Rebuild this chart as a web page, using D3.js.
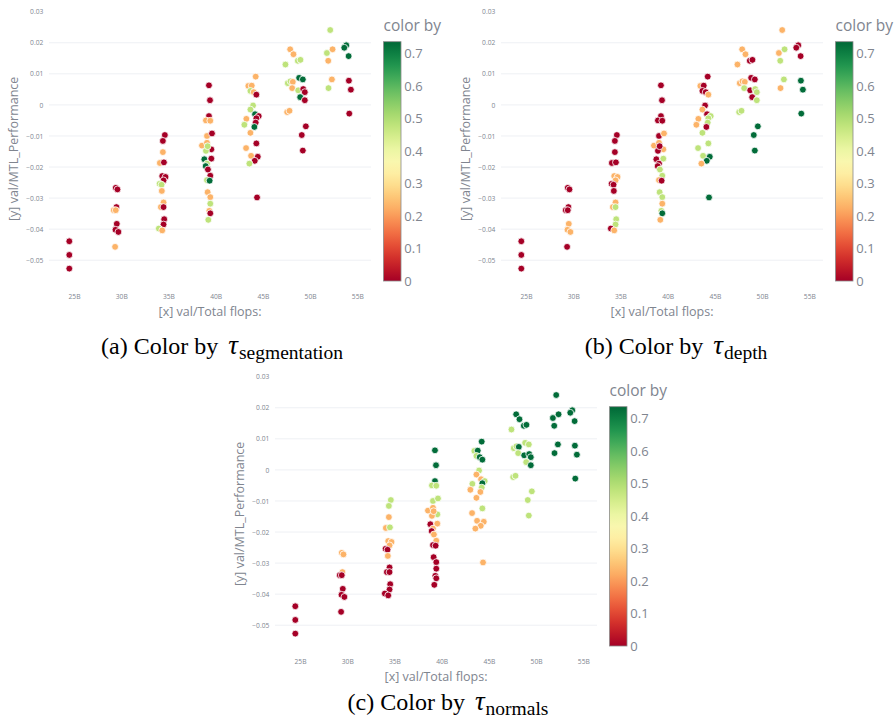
<!DOCTYPE html>
<html>
<head>
<meta charset="utf-8">
<script src="https://d3js.org/d3.v7.min.js"></script>
<style>
  body { margin: 0; background: #fff; }
  svg text { font-family: "Open Sans", sans-serif; fill: #80858f; }
  svg text.caption { font-family: "Liberation Serif", "Times New Roman", serif; fill: #000; }
  .grid line { stroke: #eef0f4; stroke-width: 1; }
</style>
</head>
<body>
<svg id="fig" width="896" height="724"></svg>
<script>
// total flops per run, in billions
var flops = [
  24.5, 24.5, 24.5,
  29.42, 29.6, 29.49, 29.21, 29.42, 29.53, 29.39, 29.7, 29.35,
  34.62, 34.41, 34.41, 34.09, 34.52, 34.34, 34.69, 34.48, 34.06, 34.27, 34.3, 34.48, 34.2, 34.48, 34.55, 34.48, 33.98, 34.34,
  39.29, 39.4, 39.29, 38.97, 39.43, 39.08, 39.61, 38.55, 39.08, 39.54, 38.97, 39.15, 38.8, 39.54, 39.08, 38.94, 39.18, 39.43, 39.08, 39.36, 39.15, 39.43, 39.43, 39.33, 39.43, 39.22,
  44.24, 43.46, 43.82, 43.68, 44.03, 44.31, 43.96, 43.68, 44.17, 44.56, 44.31, 44.24, 43.25, 43.04, 44.1, 43.68, 44.31, 43.22, 43.75, 44.46, 44.14, 43.57, 44.38,
  47.89, 48.24, 47.39, 48.7, 48.98, 47.64, 47.92, 48.17, 48.1, 48.84, 49.23, 48.74, 49.27, 49.44, 48.95, 49.44, 47.57, 47.82, 49.55, 49.12, 49.23,
  52.13, 51.78, 52.38, 51.92, 52.31, 51.95,
  53.83, 53.62, 54.08, 54.11, 54.32, 54.15
];

var perf = [
  -0.0439, -0.0483, -0.0527,
  -0.0267, -0.0272, -0.0329, -0.0339, -0.0339, -0.0383, -0.0402, -0.0409, -0.0457,
  -0.0097, -0.0116, -0.0152, -0.0187, -0.0185, -0.0229, -0.0232, -0.0243, -0.0254, -0.0257, -0.0277, -0.0314, -0.0329, -0.0329, -0.0368, -0.0385, -0.0398, -0.0404,
  0.0063, 0.0015, -0.0036, -0.0050, -0.0051, -0.0100, -0.0092, -0.0131, -0.0122, -0.0143, -0.0148, -0.0133, -0.0175, -0.0173, -0.0189, -0.0197, -0.0208, -0.0228, -0.0242, -0.0244, -0.0281, -0.0297, -0.0318, -0.0341, -0.0349, -0.0370,
  0.0091, 0.0061, 0.0062, 0.0045, 0.0041, 0.0033, -0.0002, -0.0015, -0.0030, -0.0036, -0.0043, -0.0057, -0.0045, -0.0064, -0.0071, -0.0090, -0.0124, -0.0139, -0.0164, -0.0167, -0.0180, -0.0189, -0.0298,
  0.0179, 0.0163, 0.0130, 0.0142, 0.0145, 0.0070, 0.0076, 0.0074, 0.0054, 0.0087, 0.0082, 0.0047, 0.0051, 0.0041, 0.0025, 0.0015, -0.0023, -0.0019, -0.0069, -0.0097, -0.0147,
  0.0241, 0.0167, 0.0179, 0.0142, 0.0082, 0.0054,
  0.0192, 0.0184, 0.0157, 0.0078, 0.0049, -0.0028
];

var tauSeg = [
  0, 0, 0,
  0, 0, 0, .23, .23, 0, 0, 0, .23,
  0, 0, .23, .23, 0, 0, 0, 0, .48, .48, .23, .23, .23, 0, 0, 0, .48, .23,
  0, 0, 0, .23, .23, .23, 0, .23, .23, 0, .48, .48, .73, 0, .48, .73, 0, 0, .48, .73, .23, .23, .48, .23, 0, .48,
  .23, .23, .23, .48, .23, 0, .48, .48, .73, 0, 0, 0, .23, .48, .73, .23, 0, .23, .23, 0, 0, .48, 0,
  .23, .23, .48, .48, .48, .48, .48, .23, .23, .73, .73, .48, 0, 0, .73, 0, .23, .23, 0, 0, 0,
  .48, .48, .23, .23, .23, .48,
  .73, .73, .73, 0, 0, 0
];

var tauDepth = [
  0, 0, 0,
  0, 0, 0, 0, 0, .23, .23, .23, 0,
  0, 0, 0, 0, 0, .23, .23, .23, 0, 0, 0, .23, .23, .48, .48, .48, 0, .23,
  0, 0, 0, 0, 0, 0, .23, .23, .23, .23, 0, 0, 0, .48, 0, 0, .48, .48, .23, 0, .48, .48, .23, .48, .73, .23,
  0, .23, 0, 0, 0, .23, 0, .23, 0, .48, .48, .48, .23, .23, 0, .48, .48, .48, .48, .73, .73, .23, .73,
  .23, .23, .23, 0, 0, .23, .23, .23, .48, 0, 0, 0, .48, .48, 0, .48, .48, .48, .73, .73, .73,
  .23, .23, .48, .48, .48, .23,
  0, 0, 0, .73, .73, .73
];

var tauNormals = [
  0, 0, 0,
  .23, .23, .23, 0, 0, 0, 0, 0, 0,
  .48, .48, .23, .23, .48, .23, .23, .23, 0, 0, .23, 0, 0, 0, 0, 0, 0, 0,
  .73, .73, .73, .48, .48, .48, .48, .23, .23, .48, .23, .23, 0, .23, .23, 0, .23, .23, 0, 0, 0, 0, 0, 0, 0, 0,
  .73, .48, .73, .48, .73, .73, .48, .23, .23, .48, .73, .48, .48, .23, .23, .23, .48, .23, .23, .23, .23, .23, .23,
  .73, .73, .48, .73, .73, .48, .48, .73, .48, .48, .48, .73, .73, .73, .48, .73, .48, .48, .48, .48, .48,
  .73, .73, .73, .73, .73, .73,
  .73, .73, .73, .73, .73, .73
];

var xTicks = [25, 30, 35, 40, 45, 50, 55];
var yTicks = [-0.05, -0.04, -0.03, -0.02, -0.01, 0, 0.01, 0.02, 0.03];
var cbTicks = [0, 0.1, 0.2, 0.3, 0.4, 0.5, 0.6, 0.7];
var cMax = 0.736;

var plotW = 322, plotTop = 11.7, plotBottom = 286;
var cbTop = 41.7, cbBottom = 281, cbX = 334.5, cbW = 17.5;

var panels = [
  { x0: 49,  y0: 0,   colors: tauSeg,     tag: "(a) Color by ", sub: "segmentation", cx: 222, cy: 354 },
  { x0: 501, y0: 0,   colors: tauDepth,   tag: "(b) Color by ", sub: "depth",        cx: 676, cy: 354 },
  { x0: 275, y0: 365, colors: tauNormals, tag: "(c) Color by ", sub: "normals",      cx: 448, cy: 710 }
];

var svg = d3.select("#fig");

var xScale = d3.scaleLinear().domain([22.35, 56.45]).range([0, plotW]);
var yScale = d3.scaleLinear().domain([-0.0583, 0.03]).range([plotBottom, plotTop]);
var colorScale = d3.scaleSequential(d3.interpolateRdYlGn).domain([0, cMax]);
var cbScale = d3.scaleLinear().domain([0, cMax]).range([cbBottom, cbTop]);

// gradient for the colour bar
var grad = svg.append("defs").append("linearGradient")
  .attr("id", "cbgrad").attr("x1", 0).attr("y1", 1).attr("x2", 0).attr("y2", 0);
d3.range(0, 1.0001, 0.05).forEach(function(t) {
  grad.append("stop").attr("offset", t).attr("stop-color", d3.interpolateRdYlGn(t));
});

var points = flops.map(function(f, i) { return { x: f, y: perf[i], i: i }; });

panels.forEach(function(p) {
  var g = svg.append("g").attr("transform", "translate(" + p.x0 + "," + p.y0 + ")");

  g.append("g").attr("class", "grid")
    .selectAll("line")
    .data(yTicks.filter(function(d) { return d < 0.025; }))
    .enter().append("line")
    .attr("x1", 0).attr("x2", plotW)
    .attr("y1", function(d) { return yScale(d); })
    .attr("y2", function(d) { return yScale(d); });

  var yAxis = d3.axisLeft(yScale).tickValues(yTicks).tickSize(0).tickPadding(5.7)
    .tickFormat(function(d) { return Math.abs(d) < 1e-9 ? "0" : d3.format(".2f")(d); });
  var ya = g.append("g").call(yAxis);
  ya.select(".domain").remove();
  ya.selectAll("text").style("font-size", "6.7px").style("fill", "#80858f");

  var xAxis = d3.axisBottom(xScale).tickValues(xTicks).tickSize(0).tickPadding(8.5)
    .tickFormat(function(d) { return d + "B"; });
  var xa = g.append("g").attr("transform", "translate(0," + plotBottom + ")").call(xAxis);
  xa.select(".domain").remove();
  xa.selectAll("text").style("font-size", "6.7px").style("fill", "#80858f");

  g.append("g").selectAll("circle")
    .data(points)
    .enter().append("circle")
    .attr("cx", function(d) { return xScale(d.x); })
    .attr("cy", function(d) { return yScale(d.y); })
    .attr("r", 3.4)
    .attr("fill", function(d) { return colorScale(p.colors[d.i]); })
    .attr("stroke", "#fff")
    .attr("stroke-width", 0.8);

  g.append("text")
    .attr("x", plotW / 2).attr("y", 316)
    .attr("text-anchor", "middle")
    .style("font-size", "12.5px")
    .text("[x] val/Total flops:");

  g.append("text")
    .attr("transform", "translate(-35.5," + ((plotTop + plotBottom) / 2) + ") rotate(-90)")
    .attr("text-anchor", "middle")
    .attr("dy", "0.35em")
    .style("font-size", "12.5px")
    .text("[y] val/MTL_Performance");

  // colour bar
  g.append("rect")
    .attr("x", cbX).attr("y", cbTop)
    .attr("width", cbW).attr("height", cbBottom - cbTop)
    .attr("fill", "url(#cbgrad)")
    .attr("stroke", "#8a8a8a").attr("stroke-width", 0.8);

  g.append("g").selectAll("text")
    .data(cbTicks)
    .enter().append("text")
    .attr("x", cbX + cbW + 3.3)
    .attr("y", function(d) { return cbScale(d); })
    .attr("dy", "0.36em")
    .style("font-size", "13px")
    .text(function(d) { return d === 0 ? "0" : d3.format(".1f")(d); });

  g.append("text")
    .attr("x", cbX).attr("y", 31)
    .style("font-size", "15.5px")
    .text("color by");

  // caption below the panel
  var cap = svg.append("text")
    .attr("class", "caption")
    .attr("x", p.cx).attr("y", p.cy)
    .attr("text-anchor", "middle")
    .style("font-size", "24px");
  cap.append("tspan").text(p.tag);
  cap.append("tspan").attr("dx", 4).style("font-style", "italic").style("font-size", "27px").text("τ");
  cap.append("tspan").attr("dx", 1).attr("dy", 4.5).style("font-size", "19.5px").text(p.sub);
});
</script>
</body>
</html>
